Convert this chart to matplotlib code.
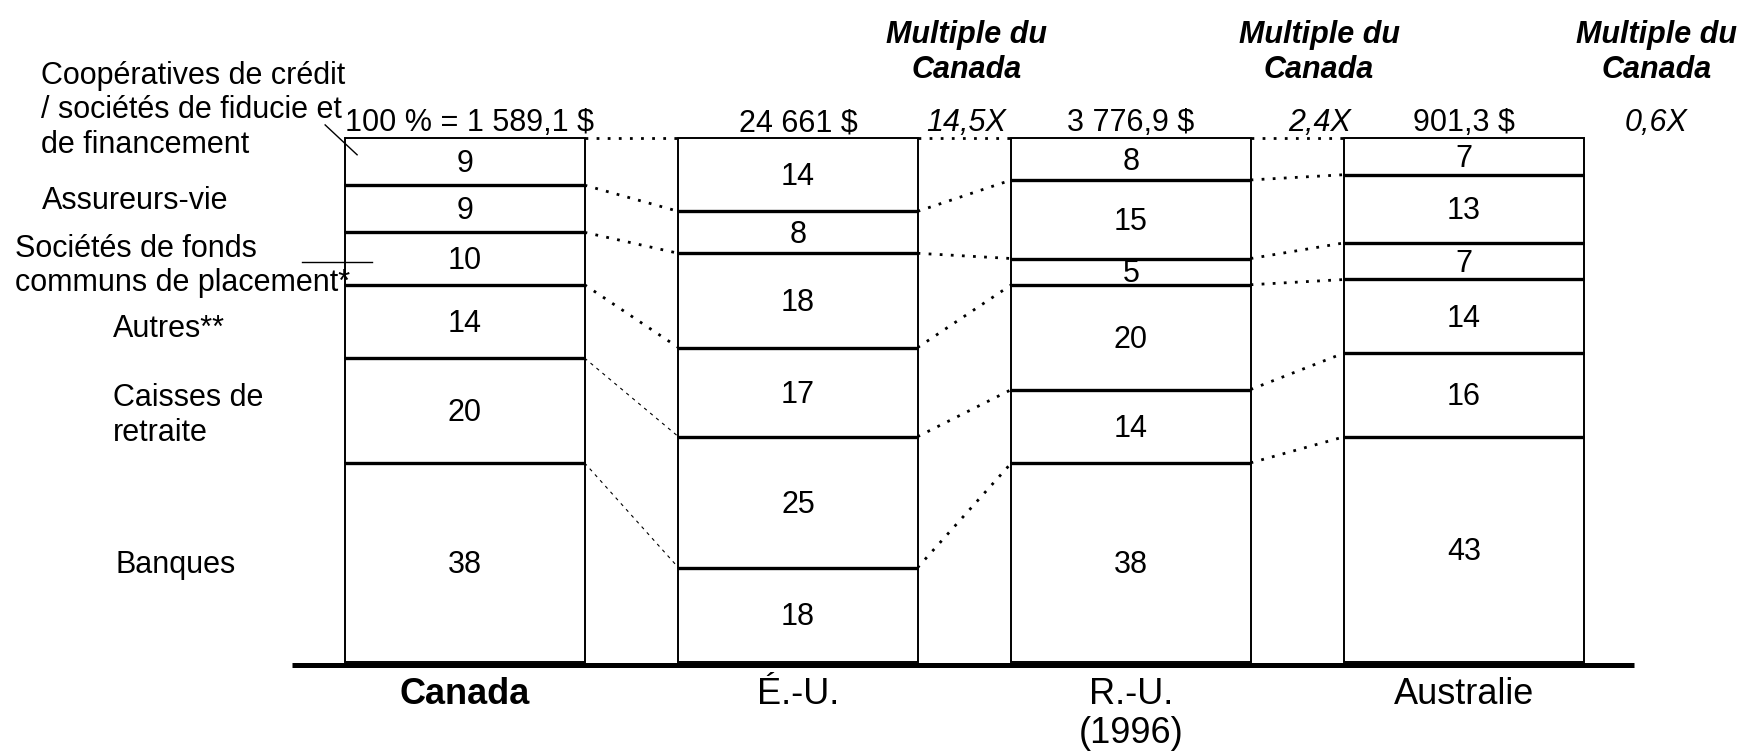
import matplotlib
matplotlib.use("Agg")
import matplotlib.pyplot as plt
import numpy as np

plt.rcParams['font.family'] = ['Liberation Sans', 'DejaVu Sans']

# Share of financial assets by type of institution (%), bottom to top
countries = ['Canada', 'É.-U.', 'R.-U.', 'Australie']
categories = ['Banques', 'Caisses de\nretraite', 'Autres**',
              'Sociétés de fonds\ncommuns de placement*', 'Assureurs-vie',
              'Coopératives de crédit\n/ sociétés de fiducie et\nde financement']
canada = [38, 20, 14, 10, 9, 9]
usa = [18, 25, 17, 18, 8, 14]
uk = [38, 14, 20, 5, 15, 8]
australia = [43, 16, 14, 7, 13, 7]
totals = ['100 % = 1 589,1 $', '24 661 $', '3 776,9 $', '901,3 $']
multiples = ['14,5X', '2,4X', '0,6X']

shares = np.array([canada, usa, uk, australia])
tops = np.cumsum(shares, axis=1)
bottoms = tops - shares

fig = plt.figure(figsize=(17.49, 7.55), dpi=100)
ax = fig.add_axes([0, 0, 1, 1])
ax.set_xlim(-1.3964, 3.8559)
ax.set_ylim(-17.75, 126.34)
ax.axis('off')

w = 0.718
x = np.arange(len(countries))
fs = 22

# stacked bars
for j in range(shares.shape[1]):
    ax.bar(x, shares[:, j], bottom=bottoms[:, j], width=w, facecolor='white',
           edgecolor='black', linewidth=1.4, zorder=2)
for i in x:
    ax.hlines(tops[i, :-1], i - w / 2, i + w / 2, colors='black',
              linewidth=2.4, zorder=3)
    for j in range(shares.shape[1]):
        ax.text(i, bottoms[i, j] + shares[i, j] / 2 - 0.5, str(shares[i, j]),
                ha='center', va='center', fontsize=fs, zorder=4)

# dotted connectors between neighbouring bars
for i in range(len(countries) - 1):
    for k in range(shares.shape[1]):
        if i == 0 and k < 2:
            style = dict(linestyle=(0, (3, 4)), linewidth=0.8)
        else:
            style = dict(linestyle=(0, (1, 3)), linewidth=2.0)
        ax.plot([i + w / 2, i + 1 - w / 2], [tops[i, k], tops[i + 1, k]],
                color='black', zorder=1, **style)

# baseline
ax.plot([-0.52, 3.51], [-0.5, -0.5], color='black', linewidth=3.6,
        solid_capstyle='butt', zorder=5)

# country names
ax.text(0, -6.2, countries[0], ha='center', va='center', fontsize=26,
        fontweight='bold')
for i in range(1, len(countries)):
    ax.text(i, -6.2, countries[i], ha='center', va='center', fontsize=26)
ax.text(2, -13.6, '(1996)', ha='center', va='center', fontsize=26)

# totals above bars
ax.text(-w / 2, 102.8, totals[0], ha='left', va='center', fontsize=fs)
for i in range(1, len(countries)):
    ax.text(i, 102.8, totals[i], ha='center', va='center', fontsize=fs)

# multiples of Canada
mult_x = [1.505, 2.565, 3.578]
for mx, m in zip(mult_x, multiples):
    ax.text(mx, 116.3, 'Multiple du\nCanada', ha='center', va='center',
            fontsize=fs, fontweight='bold', fontstyle='italic', linespacing=1.2)
    ax.text(mx, 102.8, m, ha='center', va='center', fontsize=fs,
            fontstyle='italic')

# category labels on the left
label_pos = [(-1.051, 18.6), (-1.057, 47.1), (-1.057, 63.6),
             (-1.351, 75.6), (-1.270, 87.9), (-1.273, 105.3)]
for (lx, ly), name in zip(label_pos, categories):
    ax.text(lx, ly, name, ha='left', va='center', fontsize=fs)
ax.plot([-0.420, -0.324], [102.5, 96.8], color='black', linewidth=1.0)
ax.plot([-0.489, -0.279], [76.3, 76.3], color='black', linewidth=1.0)

fig.savefig('out.png', dpi=100, facecolor='white')
